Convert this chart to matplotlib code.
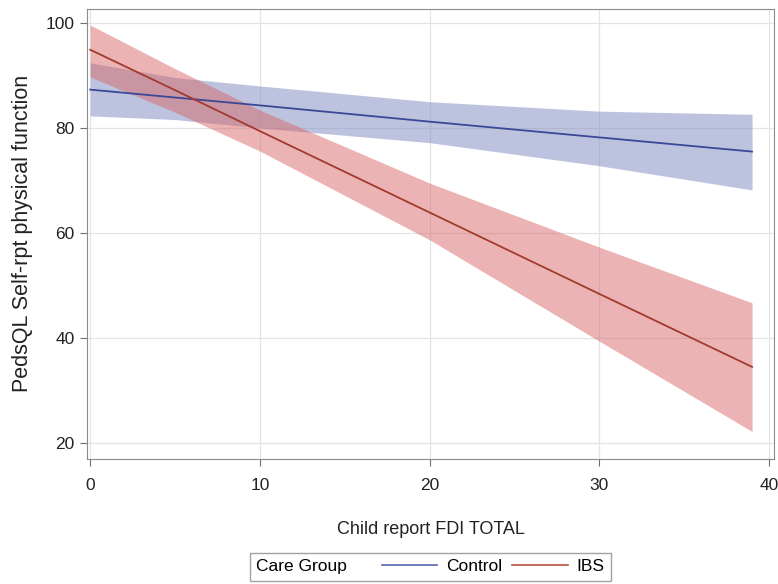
import matplotlib
matplotlib.use("Agg")
from matplotlib import pyplot as plt
from matplotlib.lines import Line2D
from matplotlib.offsetbox import HPacker

fdi = [0, 5, 10, 20, 30, 39]
ctrl_fit = [87.3, 85.8, 84.3, 81.2, 78.2, 75.5]
ctrl_upper = [92.4, 89.6, 88.0, 85.0, 83.2, 82.6]
ctrl_lower = [82.3, 81.6, 80.0, 77.2, 72.8, 68.2]
ibs_fit = [94.9, 87.2, 79.4, 63.9, 48.4, 34.5]
ibs_upper = [99.6, 91.3, 83.4, 69.5, 57.3, 46.7]
ibs_lower = [89.7, 83.0, 75.6, 58.7, 39.4, 22.2]
groups = ['Control', 'IBS']

narrow = ['Liberation Sans Narrow', 'Liberation Sans', 'DejaVu Sans']
plain = ['Liberation Sans', 'DejaVu Sans']
blue = '#3a4896'
red = '#a33a2e'

fig = plt.figure(figsize=(7.78, 5.84), dpi=100)
ax = fig.add_axes([0.112, 0.214, 0.883, 0.771])

ax.fill_between(fdi, ctrl_lower, ctrl_upper, color='#7d89c0', alpha=0.5, lw=0)
ax.fill_between(fdi, ibs_lower, ibs_upper, color='#d86868', alpha=0.5, lw=0)
ax.plot(fdi, ctrl_fit, color=blue, lw=1.3)
ax.plot(fdi, ibs_fit, color=red, lw=1.3)

ax.set_xlim(-0.18, 40.3)
ax.set_ylim(16.95, 102.7)
ax.set_xticks([0, 10, 20, 30, 40])
ax.set_yticks([20, 40, 60, 80, 100])
ax.grid(True, color='#e4e4e4', lw=0.9)
ax.set_axisbelow(True)
for s in ax.spines.values():
    s.set_color('#8c8c8c')
ax.tick_params(colors='#707070', length=5, labelcolor='#222222')
ax.tick_params(axis='x', pad=9)
ax.tick_params(axis='y', pad=4)
for lab in ax.get_xticklabels() + ax.get_yticklabels():
    lab.set_family(narrow)
    lab.set_fontsize(12.5)

ax.set_xlabel('Child report FDI TOTAL', family=narrow, fontsize=13,
              color='#222222', labelpad=20)
ax.set_ylabel('PedsQL Self-rpt physical function', family=plain, fontsize=15.5,
              color='#222222', labelpad=9)

handles = [Line2D([], [], color='#5763a8', lw=1.2),
           Line2D([], [], color='#b5503f', lw=1.2)]
leg = fig.legend(handles, groups, ncol=2, title='Care Group',
                 loc='lower center', bbox_to_anchor=(0.553, 0.0),
                 prop={'family': narrow, 'size': 12.5},
                 title_fontproperties={'family': narrow, 'size': 12.5},
                 fancybox=False, edgecolor='#8c8c8c', handlelength=3.2,
                 handletextpad=0.5, columnspacing=0.6, borderpad=0.35,
                 borderaxespad=0.2)
leg.get_frame().set_linewidth(1.0)
# title beside the entries instead of above them
fs = leg._fontsize
leg._legend_box = HPacker(pad=leg.borderpad * fs, sep=2.0 * fs, align='center',
                          children=[leg._legend_title_box, leg._legend_handle_box])
leg._legend_box.set_figure(fig)
leg._legend_box.set_offset(leg._findoffset)

plt.savefig('out.png', dpi=100)
